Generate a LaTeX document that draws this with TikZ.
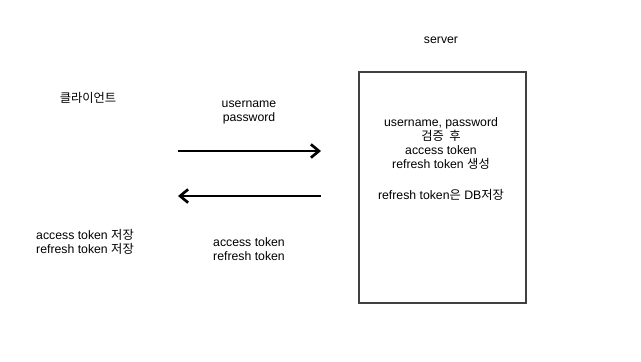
\documentclass[tikz,border=0pt]{standalone}
\usepackage{fontspec}
\setmainfont{Liberation Sans}
\newfontfamily\kr{Noto Sans CJK KR}
\usetikzlibrary{arrows.meta}

\tikzset{
    lbl/.style={align=center, font=\fontsize{9.2pt}{10.5pt}\selectfont, inner sep=0pt},
    msg/.style={line width=2.2pt, -{Straight Barb[length=6pt, width=10pt, line width=2pt]}}
}

\begin{document}
\begin{tikzpicture}[x=0.75pt, y=-0.75pt]
        \useasboundingbox (0,0) rectangle (641,361);

        % Draw the server box
        \draw[draw=black!75, line width=0.8pt] (359,72) rectangle (526,303);
        \coordinate (srvin) at (321,151);
        \coordinate (srvout) at (321,196);

        % Label the server
        \node[lbl] (server) at (441,40) {server};

        % Label the client
        \node[lbl] (client) at (88,98) {\kr 클라이언트};
        \coordinate (cliout) at (178,151);
        \coordinate (cliin) at (178,196);

        % Request: username and password
        \draw[msg] (cliout) -- (srvin);
        \node[lbl] (req) at (249,112) {username\\password};

        % Response: tokens
        \draw[msg] (srvout) -- (cliin);
        \node[lbl] (resp) at (249,249) {access token\\refresh token};

        % Server side work
        \node[lbl] (check) at (441,144) {username, password\\{\kr 검증 \ 후}\\access token\\refresh token {\kr 생성}};
        \node[lbl] (store) at (441,195) {refresh token{\kr 은} DB{\kr 저장}};

        % Client side storage
        \node[lbl] (keep) at (85,242) {access token {\kr 저장}\\refresh token {\kr 저장}};
    \end{tikzpicture}
\end{document}
